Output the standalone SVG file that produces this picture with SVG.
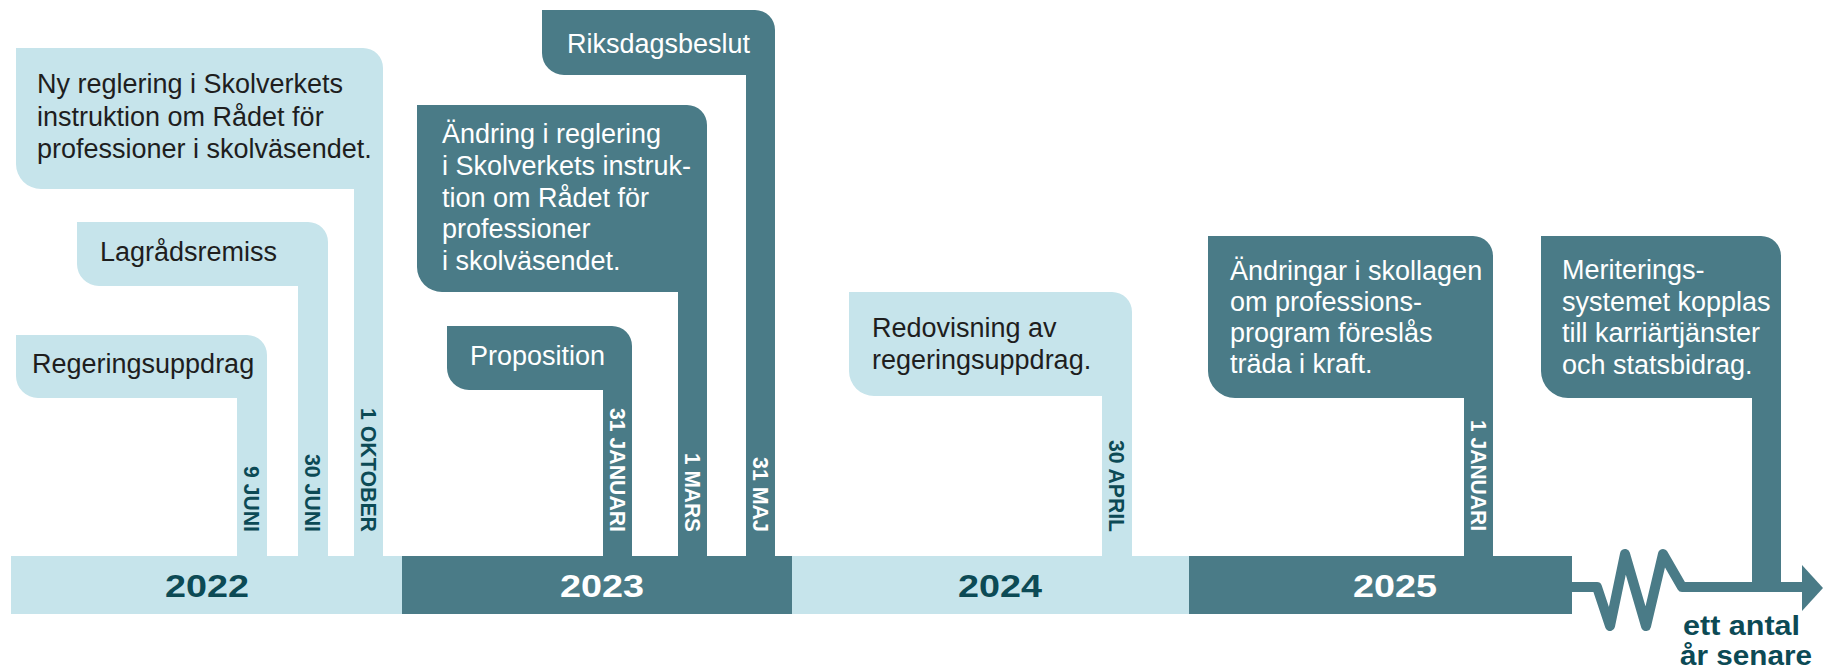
<svg xmlns="http://www.w3.org/2000/svg" width="1823" height="672" viewBox="0 0 1823 672">
<style>
.light{fill:#c6e4eb}
.dark{fill:#4a7b87}
.bt{font-family:"Liberation Sans",Arial,sans-serif;font-size:27px}
.bt.d{fill:#1e1e1e}
.bt.w{fill:#ffffff}
.date{font-family:"Liberation Sans",Arial,sans-serif;font-size:22px;font-weight:bold;text-anchor:end}
.date.d{fill:#0c4a55}
.date.w{fill:#ffffff}
.yr{font-family:"Liberation Sans",Arial,sans-serif;font-size:32px;font-weight:bold;text-anchor:middle}
.yr.d{fill:#0c4a55}
.yr.w{fill:#ffffff}
.later{font-family:"Liberation Sans",Arial,sans-serif;font-size:28px;font-weight:bold;fill:#0c4a55}
</style>
<rect width="1823" height="672" fill="#ffffff"/>

<g id="year-2022"><rect class="light" x="11" y="556" width="391" height="58"/><text class="yr d" x="207" y="597" textLength="84" lengthAdjust="spacingAndGlyphs">2022</text></g>
<g id="year-2023"><rect class="dark" x="402" y="556" width="390" height="58"/><text class="yr w" x="602" y="597" textLength="84" lengthAdjust="spacingAndGlyphs">2023</text></g>
<g id="year-2024"><rect class="light" x="792" y="556" width="397" height="58"/><text class="yr d" x="1000" y="597" textLength="84" lengthAdjust="spacingAndGlyphs">2024</text></g>
<g id="year-2025"><rect class="dark" x="1189" y="556" width="383" height="58"/><text class="yr w" x="1395" y="597" textLength="84" lengthAdjust="spacingAndGlyphs">2025</text></g>

<g id="connectors">
<polyline points="1572,587 1597,587 1610,626 1625,554 1646,626 1663,554 1682,587 1804,587" fill="none" stroke="#4a7b87" stroke-width="10" stroke-linejoin="round"/>
<polygon class="dark" points="1802,565 1823,588 1802,611"/>
</g>

<g id="node-regeringsuppdrag">
<path class="light" d="M16,335 H247 A20,20 0 0 1 267,355 V556 H237 V398 H38 A22,22 0 0 1 16,376 Z"/>
<text class="bt d" x="32" y="373">Regeringsuppdrag</text>
<text class="date d" transform="translate(252,532) rotate(90)" y="8" textLength="66" lengthAdjust="spacingAndGlyphs">9 JUNI</text>
</g>

<g id="node-lagradsremiss">
<path class="light" d="M77,222 H308 A20,20 0 0 1 328,242 V556 H298 V286 H99 A22,22 0 0 1 77,264 Z"/>
<text class="bt d" x="100" y="261">Lagrådsremiss</text>
<text class="date d" transform="translate(313,532) rotate(90)" y="8" textLength="78" lengthAdjust="spacingAndGlyphs">30 JUNI</text>
</g>

<g id="node-ny-reglering">
<path class="light" d="M16,48 H363 A20,20 0 0 1 383,68 V556 H354 V189 H41 A25,25 0 0 1 16,164 Z"/>
<text class="bt d" x="37" y="93">Ny reglering i Skolverkets</text>
<text class="bt d" x="37" y="126">instruktion om Rådet för</text>
<text class="bt d" x="37" y="158">professioner i skolväsendet.</text>
<text class="date d" transform="translate(368.5,532) rotate(90)" y="8" textLength="124" lengthAdjust="spacingAndGlyphs">1 OKTOBER</text>
</g>

<g id="node-proposition">
<path class="dark" d="M447,326 H612 A20,20 0 0 1 632,346 V556 H603 V390 H469 A22,22 0 0 1 447,368 Z"/>
<text class="bt w" x="470" y="365">Proposition</text>
<text class="date w" transform="translate(617.5,532) rotate(90)" y="8" textLength="124" lengthAdjust="spacingAndGlyphs">31 JANUARI</text>
</g>

<g id="node-andring">
<path class="dark" d="M417,105 H687 A20,20 0 0 1 707,125 V556 H678 V292 H442 A25,25 0 0 1 417,267 Z"/>
<text class="bt w" x="442" y="143">Ändring i reglering</text>
<text class="bt w" x="442" y="175">i Skolverkets instruk-</text>
<text class="bt w" x="442" y="207">tion om Rådet för</text>
<text class="bt w" x="442" y="238">professioner</text>
<text class="bt w" x="442" y="270">i skolväsendet.</text>
<text class="date w" transform="translate(692.5,532) rotate(90)" y="8" textLength="79" lengthAdjust="spacingAndGlyphs">1 MARS</text>
</g>

<g id="node-riksdagsbeslut">
<path class="dark" d="M542,10 H755 A20,20 0 0 1 775,30 V556 H746 V75 H564 A22,22 0 0 1 542,53 Z"/>
<text class="bt w" x="567" y="53">Riksdagsbeslut</text>
<text class="date w" transform="translate(760.5,532) rotate(90)" y="8" textLength="75" lengthAdjust="spacingAndGlyphs">31 MAJ</text>
</g>

<g id="node-redovisning">
<path class="light" d="M849,292 H1112 A20,20 0 0 1 1132,312 V556 H1102 V396 H874 A25,25 0 0 1 849,371 Z"/>
<text class="bt d" x="872" y="337">Redovisning av</text>
<text class="bt d" x="872" y="369">regeringsuppdrag.</text>
<text class="date d" transform="translate(1117,532) rotate(90)" y="8" textLength="92" lengthAdjust="spacingAndGlyphs">30 APRIL</text>
</g>

<g id="node-andringar">
<path class="dark" d="M1208,236 H1473 A20,20 0 0 1 1493,256 V556 H1464 V398 H1235 A27,27 0 0 1 1208,371 Z"/>
<text class="bt w" x="1230" y="280">Ändringar i skollagen</text>
<text class="bt w" x="1230" y="311">om professions-</text>
<text class="bt w" x="1230" y="342">program föreslås</text>
<text class="bt w" x="1230" y="373">träda i kraft.</text>
<text class="date w" transform="translate(1478.5,531) rotate(90)" y="8" textLength="111" lengthAdjust="spacingAndGlyphs">1 JANUARI</text>
</g>

<g id="node-meriterings">
<path class="dark" d="M1541,236 H1761 A20,20 0 0 1 1781,256 V590 H1752 V398 H1568 A27,27 0 0 1 1541,371 Z"/>
<text class="bt w" x="1562" y="279">Meriterings-</text>
<text class="bt w" x="1562" y="311">systemet kopplas</text>
<text class="bt w" x="1562" y="342">till karriärtjänster</text>
<text class="bt w" x="1562" y="374">och statsbidrag.</text>
</g>

<g id="label-later">
<text class="later" x="1683" y="635" textLength="117" lengthAdjust="spacingAndGlyphs">ett antal</text>
<text class="later" x="1680" y="665" textLength="132" lengthAdjust="spacingAndGlyphs">år senare</text>
</g>
</svg>
